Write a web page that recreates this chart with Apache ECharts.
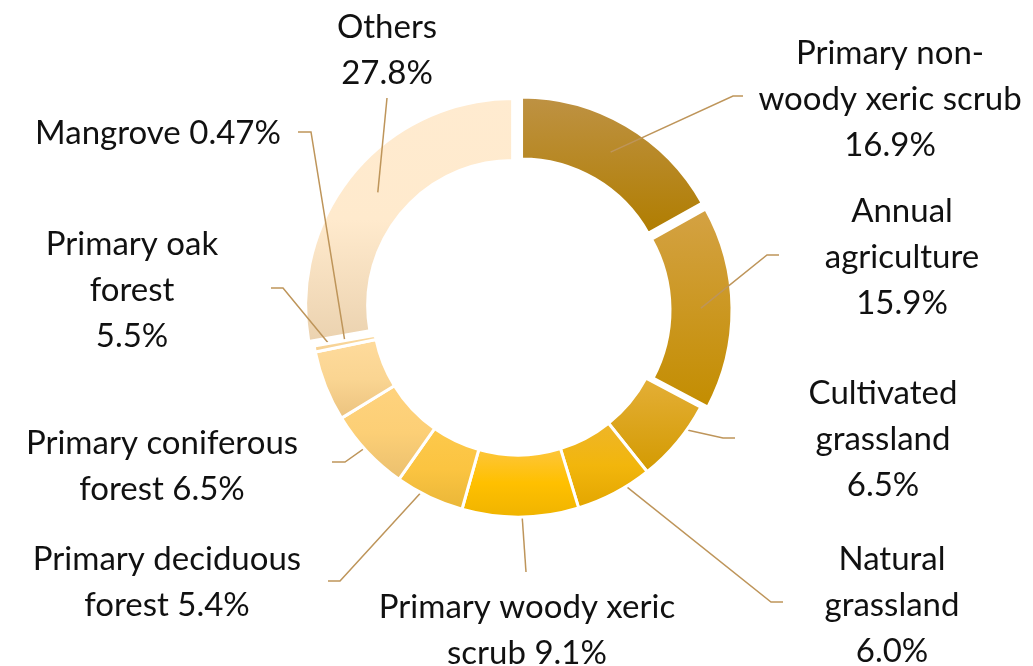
<!DOCTYPE html>
<html>
<head>
<meta charset="utf-8">
<script src="https://cdn.jsdelivr.net/npm/echarts@6/dist/echarts.min.js"></script>
<style>
html,body{margin:0;padding:0;background:#fff;}
#c{width:1033px;height:666px;}
</style>
</head>
<body>
<div id="c"></div>
<script>
// ---- data ----
const categories = [
  'Primary non-woody xeric scrub',
  'Annual agriculture',
  'Cultivated grassland',
  'Natural grassland',
  'Primary woody xeric scrub',
  'Primary deciduous forest',
  'Primary coniferous forest',
  'Primary oak forest',
  'Mangrove',
  'Others'
];
const values = [16.9, 15.9, 6.5, 6.0, 9.1, 5.4, 6.5, 5.5, 0.47, 27.8];
const exploded = [true, true, false, false, false, false, false, false, false, true];
// label line breaks (text only)
const labelLines = [
  ['Primary non-', 'woody xeric scrub', '{v}'],
  ['Annual', 'agriculture', '{v}'],
  ['Cultivated', 'grassland', '{v}'],
  ['Natural', 'grassland', '{v}'],
  ['Primary woody xeric', 'scrub {v}'],
  ['Primary deciduous', 'forest {v}'],
  ['Primary coniferous', 'forest {v}'],
  ['Primary oak', 'forest', '{v}'],
  ['Mangrove {v}'],
  ['Others', '{v}']
];
// colours: top -> bottom gradient stops
const gradients = [
  ['#BE9244', '#B07D00'],
  ['#D4A244', '#C38D00'],
  ['#E4AF38', '#D39A00'],
  ['#EEB52A', '#F2B60C', '#E2A500'],
  ['#FDC63F', '#FFC000', '#EFB300'],
  ['#FDC94C', '#FBC441', '#E9B638'],
  ['#FFD37E', '#FCCF76', '#EABF6E'],
  ['#FFDB9C', '#FAD592', '#EBC27E'],
  ['#FBDAA0', '#F5CF90'],
  ['#FFEBD0', '#FFEACD', '#EBD2AF']
];

// ---- layout ----
const CX = 518, CY = 310, R0 = 145, R1 = 207, RMID = 176, OFFSET = 7;
const labelPos = [
  {x: 890, y: 99,  line: [[733, 96], [743, 96]]},
  {x: 902, y: 257, line: [[767, 255], [779, 255]]},
  {x: 883, y: 439, line: [[723, 438], [735, 438]]},
  {x: 892, y: 605, line: [[771, 602], [783, 602]]},
  {x: 527, y: 630, line: [[526, 572], [526, 572]]},
  {x: 167, y: 582, line: [[340, 581], [328, 581]]},
  {x: 162, y: 466, line: [[345, 462], [332, 462]]},
  {x: 132, y: 290, line: [[283, 288], [271, 288]]},
  {x: 158, y: 133, line: [[311, 132], [298, 132]]},
  {x: 387, y: 50,  line: [[387, 98], [387, 98]]}
];

const total = values.reduce((a, b) => a + b, 0);
const midAngles = [];
let acc = 0;
values.forEach(v => { midAngles.push((acc + v / 2) / total * Math.PI * 2); acc += v; });

function fmt(v) { return (v < 1 ? v.toFixed(2) : v.toFixed(1)) + '%'; }

function grad(stops) {
  const n = stops.length;
  return new echarts.graphic.LinearGradient(0, 0, 0, 1,
    stops.map((c, k) => ({offset: n === 1 ? 0 : k / (n - 1), color: c})));
}

const HIDDEN = {color: 'rgba(0,0,0,0)', borderWidth: 0};
const BORDER = {borderColor: '#ffffff', borderWidth: 3};

// base series: all non-exploded slices + all labels
const baseData = categories.map((name, i) => ({
  name: name,
  value: values[i],
  itemStyle: exploded[i] ? HIDDEN : Object.assign({color: grad(gradients[i])}, BORDER)
}));

const series = [{
  type: 'pie',
  z: 3,
  center: [CX, CY],
  radius: [R0, R1],
  startAngle: 90,
  clockwise: true,
  avoidLabelOverlap: false,
  emphasis: {disabled: true},
  label: {
    show: true,
    position: 'outside',
    color: '#111111',
    fontFamily: 'Lato',
    fontSize: 33,
    lineHeight: 46,
    align: 'center',
    formatter: p => labelLines[p.dataIndex].map(s => s.replace('{v}', fmt(values[p.dataIndex]))).join('\n')
  },
  labelLine: {
    show: true,
    lineStyle: {color: '#BE955A', width: 1.5}
  },
  labelLayout: function (params) {
    const i = params.dataIndex;
    const a = midAngles[i];
    const r = RMID + (exploded[i] ? OFFSET : 0);
    const sx = CX + r * Math.sin(a);
    const sy = CY - r * Math.cos(a);
    const L = labelPos[i];
    return {
      x: L.x, y: L.y,
      align: 'center', verticalAlign: 'middle',
      labelLinePoints: [[sx, sy], L.line[0], L.line[1]]
    };
  },
  data: baseData
}];

// exploded slices: one pie per exploded item, centre pushed out along its mid-angle
exploded.forEach((ex, j) => {
  if (!ex) return;
  const a = midAngles[j];
  series.push({
    type: 'pie',
    z: 2,
    silent: true,
    center: [CX + OFFSET * Math.sin(a), CY - OFFSET * Math.cos(a)],
    radius: [R0, R1],
    startAngle: 90,
    clockwise: true,
    label: {show: false},
    labelLine: {show: false},
    emphasis: {disabled: true},
    data: categories.map((name, i) => ({
      name: name,
      value: values[i],
      itemStyle: i === j ? Object.assign({color: grad(gradients[i])}, BORDER) : HIDDEN
    }))
  });
});

const chart = echarts.init(document.getElementById('c'), null, {renderer: 'canvas'});
chart.setOption({
  backgroundColor: '#ffffff',
  animation: false,
  series: series
});
</script>
</body>
</html>
